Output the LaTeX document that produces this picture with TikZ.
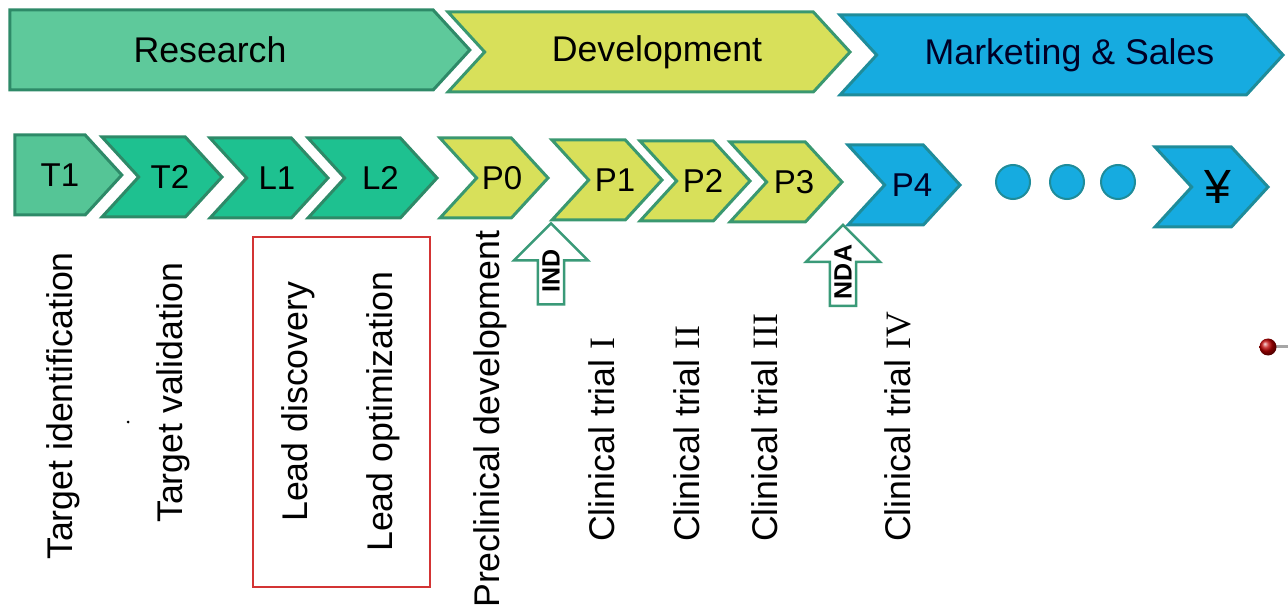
\documentclass[tikz,border=0pt]{standalone}
\usepackage{fontspec}
\setmainfont{Liberation Sans}
\newfontfamily\romfont{Liberation Serif}
\usetikzlibrary{shapes.symbols,shapes.arrows}

\definecolor{resfill}{HTML}{5EC99B}
\definecolor{resdraw}{HTML}{2E8A68}
\definecolor{devfill}{HTML}{D8E05A}
\definecolor{devdraw}{HTML}{3A9870}
\definecolor{mktfill}{HTML}{16ABE0}
\definecolor{mktdraw}{HTML}{1F8C9A}
\definecolor{tonefill}{HTML}{55C596}
\definecolor{leadfill}{HTML}{1EC190}
\definecolor{gatedraw}{HTML}{3A9A78}
\definecolor{boxred}{HTML}{D33434}

\newcommand\chevlabel[2][16pt]{\makebox[0pt]{\hspace*{#1}#2}}

\tikzset{
  phase/.style={shape=signal, signal to=east, signal pointer angle=95, line width=3pt,
    minimum height=80pt, inner sep=0pt, outer sep=0pt, font=\fontsize{35.7}{40}\selectfont},
  stage/.style={phase, font=\fontsize{33}{38}\selectfont},
  notched/.style={signal from=west},
  gate/.style={single arrow, rotate=90, draw=gatedraw, fill=white, line width=2.5pt,
    minimum height=81pt, minimum width=74pt, single arrow head extend=18pt,
    inner sep=0pt, font=\bfseries\fontsize{25}{28}\selectfont},
  dots/.style={circle, fill=mktfill, draw=mktdraw, line width=2pt, minimum size=34pt, inner sep=0pt},
  vlabel/.style={rotate=90, anchor=west, inner sep=0pt, font=\fontsize{35.7}{40}\selectfont}
}

\begin{document}
\begin{tikzpicture}[x=1pt,y=-1pt]
\useasboundingbox (0,0) rectangle (1288,612);
\node[phase,fill=resfill,draw=resdraw,minimum width=460pt] (research) at (221.5,50) {\chevlabel[-23pt]{Research}};
\node[phase,notched,fill=devfill,draw=devdraw,minimum width=402pt] (development) at (649,52) {\chevlabel{Development}};
\node[phase,notched,fill=mktfill,draw=mktdraw,minimum width=443pt,text=black!85!blue] (marketing) at (1061.5,55) {\chevlabel{Marketing \& Sales}};

\node[stage,fill=tonefill,draw=resdraw,minimum width=107pt] (t1) at (50,175) {\chevlabel[20pt]{T1}};
\node[stage,notched,fill=leadfill,draw=resdraw,minimum width=120pt] (t2) at (162,177) {\chevlabel{T2}};
\node[stage,notched,fill=leadfill,draw=resdraw,minimum width=118pt] (l1) at (269,178) {\chevlabel{L1}};
\node[stage,notched,fill=leadfill,draw=resdraw,minimum width=129pt] (l2) at (372.5,178) {\chevlabel{L2}};
\node[stage,notched,fill=devfill,draw=devdraw,minimum width=108pt] (p0) at (494,178) {\chevlabel{P0}};
\node[stage,notched,fill=devfill,draw=devdraw,minimum width=110pt] (p1) at (607,180) {\chevlabel{P1}};
\node[stage,notched,fill=devfill,draw=devdraw,minimum width=110pt] (p2) at (695,181) {\chevlabel{P2}};
\node[stage,notched,fill=devfill,draw=devdraw,minimum width=112pt] (p3) at (786,182) {\chevlabel{P3}};
\node[stage,notched,fill=mktfill,draw=mktdraw,minimum width=112pt,text=black!85!blue] (p4) at (904,185) {\chevlabel{P4}};
\node[dots] (dot1) at (1013,182) {};
\node[dots] (dot2) at (1067,182) {};
\node[dots] (dot3) at (1118,182) {};
\node[stage,notched,fill=mktfill,draw=mktdraw,minimum width=113pt,font=\fontsize{48}{52}\selectfont] (yen) at (1211.5,187) {\chevlabel[12pt]{¥}};

\node[gate] (ind) at (551,270.5) {IND};
\node[gate] (nda) at (843,272) {NDA};

\node[draw=boxred,line width=2pt,minimum width=177pt,minimum height=350pt,inner sep=0pt] (leadbox) at (341.5,412) {};

\node[vlabel] (tid) at (63,560) {Target identification};
\node[circle,fill=black,minimum size=3pt,inner sep=0pt] (speck) at (128,422) {};
\node[vlabel] (tval) at (173,523) {Target validation};
\node[vlabel] (ldisc) at (298,522) {Lead discovery};
\node[vlabel] (lopt) at (383,552) {Lead optimization};
\node[vlabel] (precl) at (490,608) {Preclinical development};
\node[vlabel] (ct1) at (602,542) {Clinical trial {\romfont I}};
\node[vlabel] (ct2) at (687,542) {Clinical trial {\romfont II}};
\node[vlabel] (ct3) at (765,542) {Clinical trial {\romfont III}};
\node[vlabel] (ct4) at (898,542) {Clinical trial {\romfont IV}};

\coordinate (pinend) at (1288,347);
\draw[gray!70,line width=3pt] (1268,347) -- (pinend);
\node[circle,shade,ball color=red!75!black,minimum size=17pt,inner sep=0pt] (pin) at (1268,347) {};
\end{tikzpicture}
\end{document}
